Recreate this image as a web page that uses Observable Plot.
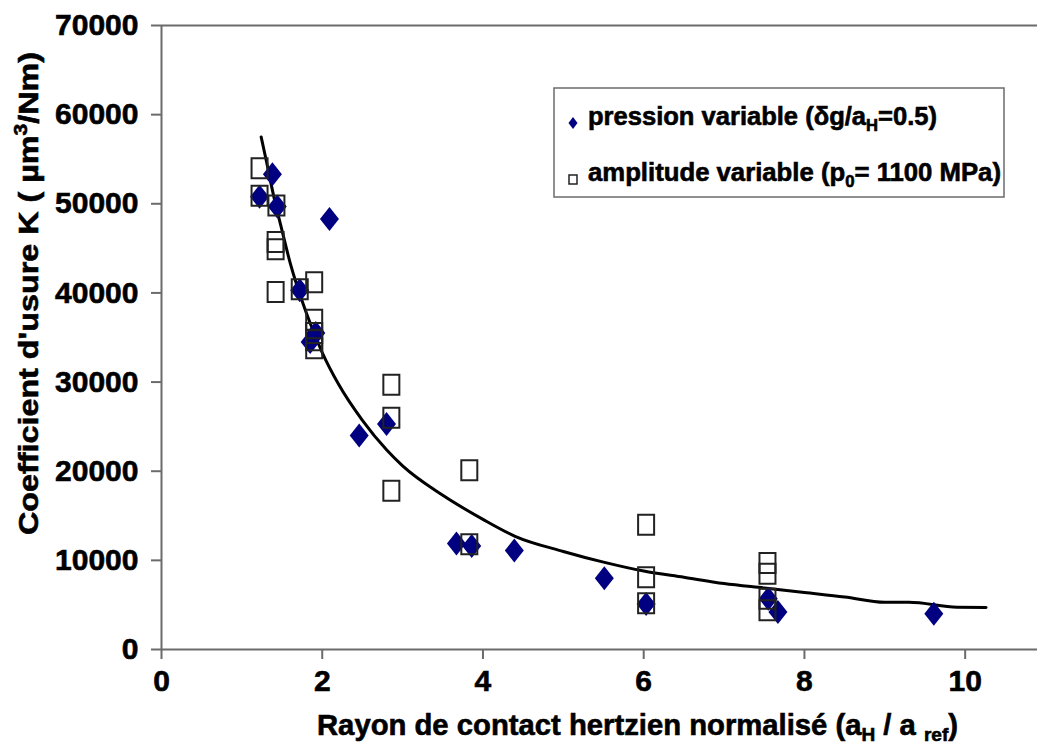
<!DOCTYPE html>
<html>
<head>
<meta charset="utf-8">
<script src="https://cdn.jsdelivr.net/npm/d3@7"></script>
<script src="https://cdn.jsdelivr.net/npm/@observablehq/plot@0.6"></script>
<style>
  html, body { margin: 0; padding: 0; background: white; }
  #chart { width: 1037px; height: 746px; }
  #chart svg text { stroke: black; stroke-width: 0.6px; }
</style>
</head>
<body>
<div id="chart"></div>
<script>
// ---- data ----
const xTicks = [0, 2, 4, 6, 8, 10];
const yTicks = [0, 10000, 20000, 30000, 40000, 50000, 60000, 70000];

// series 1: pression variable (δg/aH = 0.5) — filled navy diamonds
const pressionX = [1.22, 1.38, 1.44, 2.09, 1.72, 1.85, 1.92, 2.46, 2.80, 3.67, 3.86, 4.39, 5.51, 6.03, 7.55, 7.67, 9.61];
const pressionK = [50800, 53300, 49700, 48300, 40300, 34500, 35500, 24000, 25300, 11900, 11600, 11100, 8000, 5100, 5700, 4200, 4000];

// series 2: amplitude variable (p0 = 1100 MPa) — open squares
const amplitudeX = [1.22, 1.22, 1.43, 1.42, 1.42, 1.42, 1.72, 1.90, 1.90, 1.90, 1.90, 1.90, 2.86, 2.86, 2.86, 3.83, 3.83, 6.03, 6.03, 6.03, 7.54, 7.54, 7.54, 7.54];
const amplitudeK = [54000, 50900, 49800, 45700, 44900, 40100, 40400, 41200, 37000, 35500, 34700, 33800, 29700, 26000, 17800, 20100, 11800, 14000, 8100, 5200, 9700, 8500, 5700, 4400];

// trend curve, points
const fitX = [1.24, 1.3, 1.4, 1.5, 1.6, 1.8, 2.0, 2.2, 2.5, 2.8, 3.0, 3.5, 4.0, 4.4, 5.0, 5.5, 6.0, 6.5, 7.0, 7.5, 8.0, 8.5, 9.0, 9.3, 9.9, 10.26];
const fitK = [57500, 55000, 50700, 47000, 43400, 37800, 33300, 29800, 25700, 22400, 20600, 17300, 14600, 12700, 11000, 9800, 8800, 8100, 7400, 6900, 6400, 5900, 5300, 5300, 4750, 4720];

const pression = pressionX.map((x, i) => ({x, k: pressionK[i]}));
const amplitude = amplitudeX.map((x, i) => ({x, k: amplitudeK[i]}));
const fit = fitX.map((x, i) => ({x, k: fitK[i]}));

// custom symbols
const diamondSym = { draw(ctx) { ctx.moveTo(0, -12); ctx.lineTo(9.5, 0); ctx.lineTo(0, 12); ctx.lineTo(-9.5, 0); ctx.closePath(); } };
const rectSym = { draw(ctx) { ctx.moveTo(-8, -10); ctx.lineTo(8, -10); ctx.lineTo(8, 10); ctx.lineTo(-8, 10); ctx.closePath(); } };

const FONT = "'Liberation Sans', Arial, sans-serif";
const GREY = "#6b6b6b";

const chart = Plot.plot({
  width: 1037,
  height: 746,
  marginLeft: 161,
  marginRight: 0,
  marginTop: 25,
  marginBottom: 97,
  style: { fontFamily: FONT, fontWeight: "bold", background: "white", color: "black", overflow: "visible" },
  x: { domain: [0, 10.9], axis: null },
  y: { domain: [0, 70000], axis: null },
  marks: [
    Plot.ruleY([70000], { stroke: GREY, strokeWidth: 2 }),
    Plot.ruleY([0], { stroke: GREY, strokeWidth: 2 }),
    Plot.ruleX([0], { stroke: GREY, strokeWidth: 2 }),
    Plot.axisX({ ticks: xTicks, tickSize: 10, tickPadding: 10, fontSize: 30, fontWeight: "bold", stroke: GREY, strokeWidth: 2, fill: "black", label: null, tickFormat: d => String(d) }),
    Plot.axisY({ ticks: yTicks, tickSize: 10, tickPadding: 13, fontSize: 30, fontWeight: "bold", stroke: GREY, strokeWidth: 2, fill: "black", label: null, tickFormat: d => String(d) }),
    Plot.line(fit, { x: "x", y: "k", stroke: "black", strokeWidth: 3, curve: "monotone-x" }),
    Plot.dot(pression, { x: "x", y: "k", symbol: diamondSym, fill: "#000080", stroke: "none", r: 10 }),
    Plot.dot(amplitude, { x: "x", y: "k", symbol: rectSym, fill: "none", stroke: "#222", strokeWidth: 2, r: 10 })
  ]
});

document.getElementById("chart").appendChild(chart);

// ---- axis titles & legend with sub/superscripts ----
const svg = d3.select(chart);

function richText(g, parts, attrs) {
  const t = g.append("text");
  Object.entries(attrs).forEach(([k, v]) => t.attr(k, v));
  let shift = 0;
  parts.forEach(p => {
    const ts = t.append("tspan").text(p.t);
    const target = p.sub ? 6 : p.sup ? -11 : 0;
    if (target !== shift) { ts.attr("dy", target - shift); shift = target; }
    if (p.sub || p.sup) ts.attr("font-size", p.size || "0.65em");
  });
  return t;
}

// x title
richText(svg, [
  { t: "Rayon de contact hertzien normalisé (a" },
  { t: "H", sub: true },
  { t: " / a " },
  { t: "ref", sub: true },
  { t: ")" }
], { x: 317, y: 735, "text-anchor": "start", "font-size": 29, "font-weight": "bold", "font-family": FONT, fill: "black",
     textLength: 641, lengthAdjust: "spacingAndGlyphs" });

// y title
const yt = svg.append("g").attr("transform", "translate(38,535) rotate(-90)");
richText(yt, [
  { t: "Coefficient d'usure K ( µm" },
  { t: "3", sup: true },
  { t: "/Nm)" }
], { x: 0, y: 0, "text-anchor": "start", "font-size": 28, "font-weight": "bold", "font-family": FONT, fill: "black",
     textLength: 483, lengthAdjust: "spacingAndGlyphs" });

// legend
const lg = svg.append("g");
lg.append("rect").attr("x", 554).attr("y", 88).attr("width", 450).attr("height", 109)
  .attr("fill", "white").attr("stroke", GREY).attr("stroke-width", 1.5);
lg.append("path").attr("d", "M573,117 L577.5,123 L573,129 L568.5,123 Z").attr("fill", "#000080");
lg.append("rect").attr("x", 569).attr("y", 175).attr("width", 8).attr("height", 9)
  .attr("fill", "white").attr("stroke", "#222").attr("stroke-width", 1.5);
richText(lg, [
  { t: "pression variable (δg/a" },
  { t: "H", sub: true },
  { t: "=0.5)" }
], { x: 588, y: 125, "text-anchor": "start", "font-size": 25, "font-weight": "bold", "font-family": FONT, fill: "black",
     textLength: 349, lengthAdjust: "spacingAndGlyphs" });
richText(lg, [
  { t: "amplitude variable (p" },
  { t: "0", sub: true },
  { t: "= 1100 MPa)" }
], { x: 588, y: 181, "text-anchor": "start", "font-size": 25, "font-weight": "bold", "font-family": FONT, fill: "black",
     textLength: 413, lengthAdjust: "spacingAndGlyphs" });
</script>
</body>
</html>
